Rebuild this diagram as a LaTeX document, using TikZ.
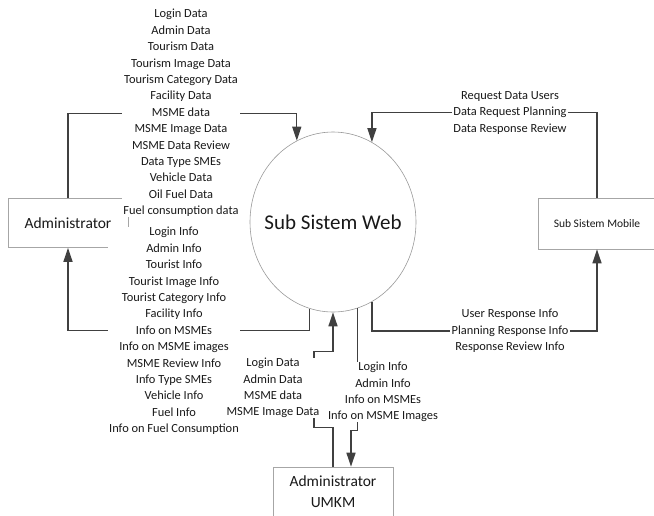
\documentclass[tikz,border=0pt]{standalone}
\usepackage{fontspec}
\setmainfont{Carlito}
\usetikzlibrary{shapes.geometric,arrows.meta}

\tikzset{
  entity/.style={draw=black!35, line width=0.6pt, fill=white, minimum width=120pt, minimum height=49pt, inner sep=0pt, text=black!90},
  proc/.style={ellipse, draw=black!40, line width=0.6pt, minimum width=166pt, minimum height=180pt, inner xsep=-25pt, inner ysep=0pt, text=black!90, font=\fontsize{21}{24}\selectfont},
  flow/.style={draw=black!75, line width=1.4pt, -{Triangle[length=14pt,width=9pt]}},
  lbl/.style={fill=white, align=center, inner xsep=1.5pt, inner ysep=0pt, text=black!90, font=\fontsize{12.4}{16.4}\selectfont}
}

\begin{document}
\begin{tikzpicture}[x=1pt, y=-1pt]
    \useasboundingbox (0,0) rectangle (654,515);
    % Process and external entities
    \node[proc] (web) at (333,222) {Sub Sistem Web};
    \node[entity, font=\fontsize{15.5}{18}\selectfont] (admin) at (68,223) {Administrator};
    \node[entity, minimum width=118pt, minimum height=51pt, font=\fontsize{11.5}{14}\selectfont] (mobile) at (597,223.5) {Sub Sistem Mobile};
    \node[entity, minimum height=50pt, align=center, font=\fontsize{15.5}{21}\selectfont] (umkm) at (333,492) {Administrator\\UMKM};
    % Administrator <-> Sub Sistem Web
    \draw[flow] (admin.north) -- ++(0,-85) -| (web.114);
    \draw[flow] (web.-105) -- ++(0,22) -| (admin.south);
    % Sub Sistem Mobile <-> Sub Sistem Web
    \draw[flow] (mobile.north) -- ++(0,-85) -| (web.64);
    \draw[flow] (web.-64) -- ++(0,29) -| (mobile.south);
    % Administrator UMKM <-> Sub Sistem Web
    \draw[flow] (umkm.north) -- ++(0,-39) -- ++(-19,0) -- ++(0,-76) -- ++(19,0) -- (web.south);
    \draw[flow] (web.-74.5) -- ++(0,122) -| ([xshift=18pt]umkm.north);
    % Flow labels
    \node[lbl] (adminIn) at (181,113) {Login Data\\Admin Data\\Tourism Data\\Tourism Image Data\\Tourism Category Data\\Facility Data\\MSME data\\MSME Image Data\\MSME Data Review\\Data Type SMEs\\Vehicle Data\\Oil Fuel Data\\Fuel consumption data};
    \node[lbl] (adminOut) at (174,331) {Login Info\\Admin Info\\Tourist Info\\Tourist Image Info\\Tourist Category Info\\Facility Info\\Info on MSMEs\\Info on MSME images\\MSME Review Info\\Info Type SMEs\\Vehicle Info\\Fuel Info\\Info on Fuel Consumption};
    \node[lbl] (mobileIn) at (510,113) {Request Data Users\\Data Request Planning\\Data Response Review};
    \node[lbl] (mobileOut) at (510,331) {User Response Info\\Planning Response Info\\Response Review Info};
    \node[lbl] (umkmIn) at (273,388) {Login Data\\Admin Data\\MSME data\\MSME Image Data};
    \node[lbl] (umkmOut) at (383,392) {Login Info\\Admin Info\\Info on MSMEs\\Info on MSME Images};
\end{tikzpicture}
\end{document}
